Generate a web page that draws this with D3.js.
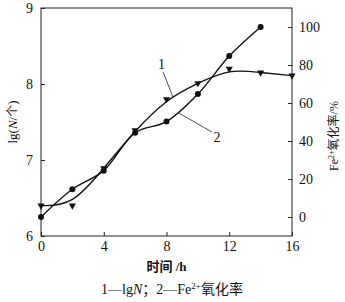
<!DOCTYPE html>
<html>
<head>
<meta charset="utf-8">
<script src="https://cdn.jsdelivr.net/npm/d3@7"></script>
<style>
  body { margin: 0; background: #fff; }
  text { font-family: "Liberation Serif", "Times New Roman", serif; fill: #111; }
  .cjk { font-family: "Noto Sans CJK SC", sans-serif; }
</style>
</head>
<body>
<svg id="chart"></svg>
<script>
// time (h)
const hours = [0, 2, 4, 6, 8, 10, 12, 14, 16];
// curve 1: lg N (left axis), triangles
const lgN = [6.40, 6.40, 6.89, 7.39, 7.80, 8.01, 8.20, 8.15, 8.11];
// curve 2: Fe2+ oxidation rate % (right axis), circles
const oxHours = [0, 2, 4, 6, 8, 10, 12, 14];
const oxRate = [0, 14.6, 24.4, 44.4, 50.2, 64.7, 84.7, 100];

const xTicks = [0, 4, 8, 12, 16];
const leftTicks = [6, 7, 8, 9];
const rightTicks = [0, 20, 40, 60, 80, 100];

const W = 345, H = 302;
const margin = { top: 8, right: 53, bottom: 66, left: 41 };
const width = W - margin.left - margin.right;
const height = H - margin.top - margin.bottom;

const svg = d3.select("#chart").attr("width", W).attr("height", H);
const g = svg.append("g").attr("transform", "translate(" + margin.left + "," + margin.top + ")");

const x = d3.scaleLinear().domain([0, 16]).range([0, width]);
const yL = d3.scaleLinear().domain([6, 9]).range([height, 0]);
const yR = d3.scaleLinear().domain([-10, 110]).range([height, 0]);

// frame
g.append("rect").attr("width", width).attr("height", height)
  .attr("fill", "none").attr("stroke", "#222").attr("stroke-width", 1);

// axes with inward ticks
const styleAxis = (sel) => {
  sel.select(".domain").remove();
  sel.selectAll("line").attr("stroke", "#222");
  sel.selectAll("text").style("font-size", "14px").style("fill", "#111");
};
g.append("g").attr("transform", "translate(0," + height + ")")
  .call(d3.axisBottom(x).tickValues(xTicks).tickFormat(d3.format("d")).tickSizeInner(-4).tickSizeOuter(0).tickPadding(5))
  .call(styleAxis);
g.append("g")
  .call(d3.axisLeft(yL).tickValues(leftTicks).tickFormat(d3.format("d")).tickSizeInner(-4).tickSizeOuter(0).tickPadding(8))
  .call(styleAxis);
g.append("g").attr("transform", "translate(" + width + ",0)")
  .call(d3.axisRight(yR).tickValues(rightTicks).tickFormat(d3.format("d")).tickSizeInner(-4).tickSizeOuter(0).tickPadding(7))
  .call(styleAxis);

// curves
const line1 = d3.line().x((d, i) => x(hours[i])).y(d => yL(d)).curve(d3.curveBasis);
const line2 = d3.line().x((d, i) => x(oxHours[i])).y(d => yR(d)).curve(d3.curveCatmullRom);

g.append("path").datum(lgN).attr("d", line1)
  .attr("fill", "none").attr("stroke", "#111").attr("stroke-width", 1.4);
g.append("path").datum(oxRate).attr("d", line2)
  .attr("fill", "none").attr("stroke", "#111").attr("stroke-width", 1.4);

// markers
g.selectAll(".tri").data(lgN).enter().append("path")
  .attr("class", "tri")
  .attr("transform", (d, i) => "translate(" + x(hours[i]) + "," + yL(d) + ") rotate(180)")
  .attr("d", d3.symbol().type(d3.symbolTriangle).size(22))
  .attr("fill", "#111");
g.selectAll(".dot").data(oxRate).enter().append("circle")
  .attr("class", "dot")
  .attr("cx", (d, i) => x(oxHours[i]))
  .attr("cy", d => yR(d))
  .attr("r", 3)
  .attr("fill", "#111");

// curve labels with leader lines
g.append("line").attr("x1", x(7.78)).attr("y1", yL(8.16)).attr("x2", x(8.41)).attr("y2", yL(7.83))
  .attr("stroke", "#222").attr("stroke-width", 0.8);
g.append("text").attr("x", x(7.46)).attr("y", yL(8.2)).style("font-size", "14px").text("1");
g.append("line").attr("x1", x(8.73)).attr("y1", yR(55)).attr("x2", x(10.9)).attr("y2", yR(44.7))
  .attr("stroke", "#222").attr("stroke-width", 0.8);
g.append("text").attr("x", x(11.0)).attr("y", yR(39.5)).style("font-size", "14px").text("2");

// left axis title
const lt = svg.append("text")
  .attr("transform", "translate(17," + (margin.top + height / 2) + ") rotate(-90)")
  .attr("text-anchor", "middle").style("font-size", "13px");
lt.append("tspan").text("lg(");
lt.append("tspan").style("font-style", "italic").text("N");
lt.append("tspan").text("/");
lt.append("tspan").attr("class", "cjk").style("font-size", "12px").text("个");
lt.append("tspan").text(")");

// right axis title
const rt = svg.append("text")
  .attr("transform", "translate(338," + (margin.top + 128) + ") rotate(-90)")
  .attr("text-anchor", "middle").style("font-size", "12px");
rt.append("tspan").text("Fe");
rt.append("tspan").attr("dy", -4).style("font-size", "8px").text("2+");
rt.append("tspan").attr("dy", 4).attr("class", "cjk").style("font-size", "12px").text("氧化率");
rt.append("tspan").text("/%");

// x axis title
const xt = svg.append("text").attr("x", margin.left + width / 2).attr("y", 271)
  .attr("text-anchor", "middle").style("font-size", "13px").style("font-weight", "bold");
xt.append("tspan").attr("class", "cjk").text("时间");
xt.append("tspan").text(" /h");

// caption
const cap = svg.append("text").attr("x", 172).attr("y", 294)
  .attr("text-anchor", "middle").style("font-size", "14px");
cap.append("tspan").text("1—lg");
cap.append("tspan").style("font-style", "italic").text("N");
cap.append("tspan").attr("class", "cjk").text("；");
cap.append("tspan").text("2—Fe");
cap.append("tspan").attr("dy", -5).style("font-size", "9px").text("2+");
cap.append("tspan").attr("dy", 5).attr("class", "cjk").text("氧化率");
</script>
</body>
</html>
